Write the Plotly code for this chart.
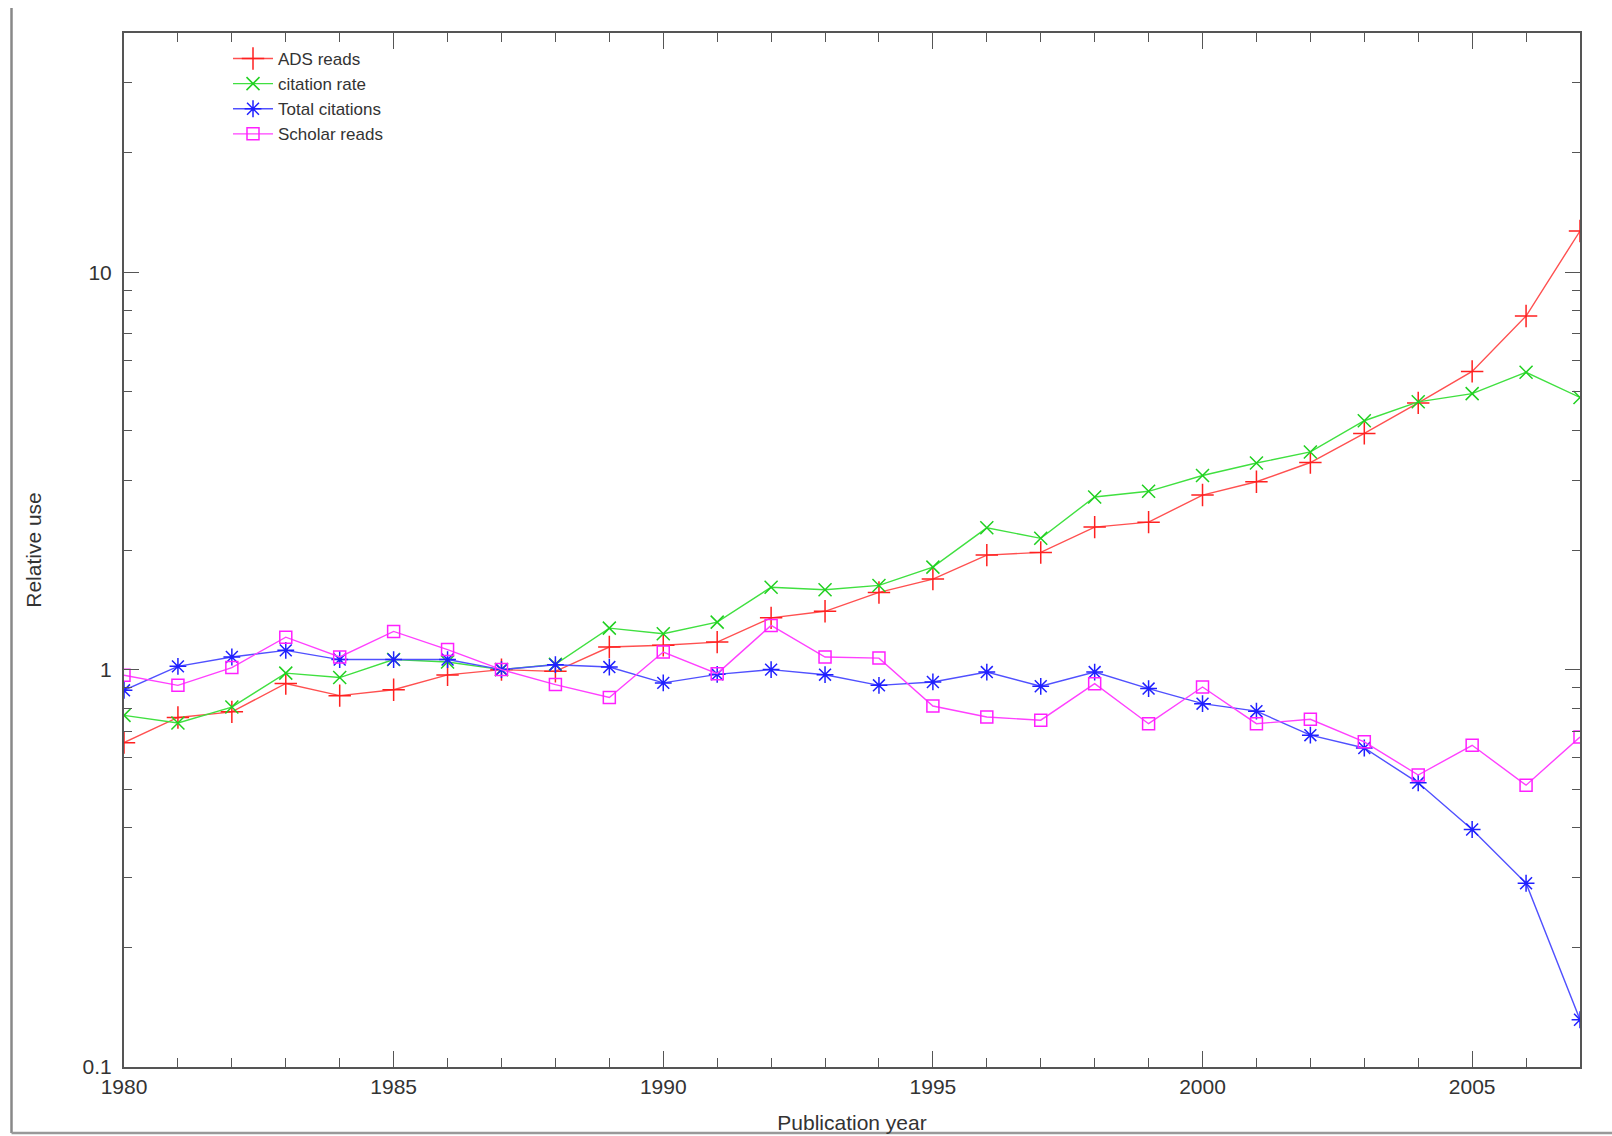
import plotly.graph_objects as go

# ---------------- data ----------------
years = [1980, 1981, 1982, 1983, 1984, 1985, 1986, 1987, 1988, 1989,
         1990, 1991, 1992, 1993, 1994, 1995, 1996, 1997, 1998, 1999,
         2000, 2001, 2002, 2003, 2004, 2005, 2006, 2007]

ads_reads = [0.655, 0.758, 0.783, 0.923, 0.860, 0.890, 0.970, 1.000, 0.990, 1.140,
             1.152, 1.173, 1.350, 1.402, 1.564, 1.690, 1.942, 1.972, 2.284, 2.350,
             2.75, 2.97, 3.32, 3.93, 4.69, 5.63, 7.76, 12.7]

citation_rate = [0.767, 0.734, 0.805, 0.980, 0.955, 1.060, 1.045, 1.000, 1.031, 1.272,
                 1.231, 1.317, 1.612, 1.588, 1.629, 1.811, 2.274, 2.140, 2.72, 2.81,
                 3.08, 3.31, 3.53, 4.23, 4.72, 4.95, 5.60, 4.84]

total_citations = [0.887, 1.019, 1.076, 1.118, 1.060, 1.060, 1.060, 1.000, 1.029, 1.015,
                   0.926, 0.973, 1.000, 0.971, 0.913, 0.931, 0.986, 0.908, 0.986, 0.896,
                   0.821, 0.786, 0.684, 0.635, 0.519, 0.396, 0.290, 0.1315]

scholar_reads = [0.968, 0.913, 1.012, 1.207, 1.076, 1.248, 1.123, 1.000, 0.917, 0.851,
                 1.107, 0.977, 1.292, 1.076, 1.069, 0.810, 0.760, 0.746, 0.922, 0.731,
                 0.904, 0.731, 0.750, 0.658, 0.543, 0.645, 0.512, 0.677]

series_names = ["ADS reads", "citation rate", "Total citations", "Scholar reads"]
series_values = [ads_reads, citation_rate, total_citations, scholar_reads]
line_colors = ["#ff5050", "#40e040", "#5050ff", "#ff40ff"]
marker_colors = ["#ff2020", "#20d020", "#2020ff", "#ff20ff"]
marker_symbols = ["cross-thin-open", "x-thin-open", "asterisk-open", "square-open"]
marker_sizes = [16, 13, 14, 12]

x_tick_vals = [1980, 1985, 1990, 1995, 2000, 2005]
x_tick_text = ["1980", "1985", "1990", "1995", "2000", "2005"]
y_tick_vals = [0.1, 1, 10]
y_tick_text = ["0.1", "1", "10"]
y_minor_vals = [m * d for d in (0.1, 1, 10) for m in range(2, 10) if m * d <= 40]

# ---------------- figure ----------------
W, H = 1612, 1136
ML, MR, MT, MB = 124, 32, 33, 69
PW, PH = W - ML - MR, H - MT - MB
FONT = "Liberation Sans, Arial, sans-serif"
AXCOL = "#555555"
TXTCOL = "#333333"

fig = go.Figure()
for name, vals, lc, mc, sym, ms in zip(series_names, series_values, line_colors,
                                       marker_colors, marker_symbols, marker_sizes):
    fig.add_trace(go.Scatter(
        x=years, y=vals, name=name, mode="lines+markers",
        line=dict(color=lc, width=1.4),
        marker=dict(symbol=sym, size=ms, color=mc, line=dict(color=mc, width=1.5)),
    ))

fig.update_layout(
    width=W, height=H,
    margin=dict(l=ML, r=MR, t=MT, b=MB, autoexpand=False),
    paper_bgcolor="white", plot_bgcolor="white",
    font=dict(family=FONT, size=21, color=TXTCOL),
    showlegend=True,
    legend=dict(
        x=(228 - ML) / PW, y=1 - (41 - MT) / PH, xanchor="left", yanchor="top",
        bgcolor="rgba(0,0,0,0)", borderwidth=0,
        font=dict(family=FONT, size=17, color=TXTCOL),
        itemwidth=40, tracegroupgap=0,
    ),
)

fig.update_xaxes(
    range=[1980, 2007], showgrid=False, zeroline=False,
    showline=True, linecolor=AXCOL, linewidth=2, mirror="allticks",
    ticks="inside", ticklen=16, tickwidth=1.3, tickcolor=AXCOL,
    tickvals=x_tick_vals, ticktext=x_tick_text, ticklabelstandoff=0,
    tickfont=dict(family=FONT, size=21, color=TXTCOL),
    minor=dict(ticks="inside", ticklen=9, tickwidth=1.3, tickcolor=AXCOL,
               dtick=1, showgrid=False),
    title=dict(text="Publication year", font=dict(family=FONT, size=21, color=TXTCOL),
               standoff=18),
)

fig.update_yaxes(
    type="log", range=[-1, 1.60206], showgrid=False, zeroline=False,
    showline=True, linecolor=AXCOL, linewidth=2, mirror="allticks",
    ticks="inside", ticklen=15, tickwidth=1.3, tickcolor=AXCOL,
    tickvals=y_tick_vals, ticktext=y_tick_text, ticklabelstandoff=6,
    tickfont=dict(family=FONT, size=21, color=TXTCOL),
    minor=dict(ticks="inside", ticklen=8, tickwidth=1.3, tickcolor=AXCOL,
               tickvals=y_minor_vals, showgrid=False),
    title=dict(text="Relative use", font=dict(family=FONT, size=21, color=TXTCOL),
               standoff=35),
)

# outer page frame (left and bottom edges of the original figure image)
def px_x(p):
    return (p - ML) / PW

def px_y(p):
    return 1 - (p - MT) / PH

fig.add_shape(type="line", xref="paper", yref="paper",
              x0=px_x(11.5), x1=px_x(11.5), y0=px_y(8), y1=px_y(1133),
              line=dict(color="#888888", width=2.5))
fig.add_shape(type="line", xref="paper", yref="paper",
              x0=px_x(11.5), x1=px_x(W), y0=px_y(1133), y1=px_y(1133),
              line=dict(color="#999999", width=2.5))

fig.write_html(
    "out.html",
    config={"displayModeBar": False},
    post_script="document.body.style.margin='0';document.body.style.overflow='hidden';",
)
